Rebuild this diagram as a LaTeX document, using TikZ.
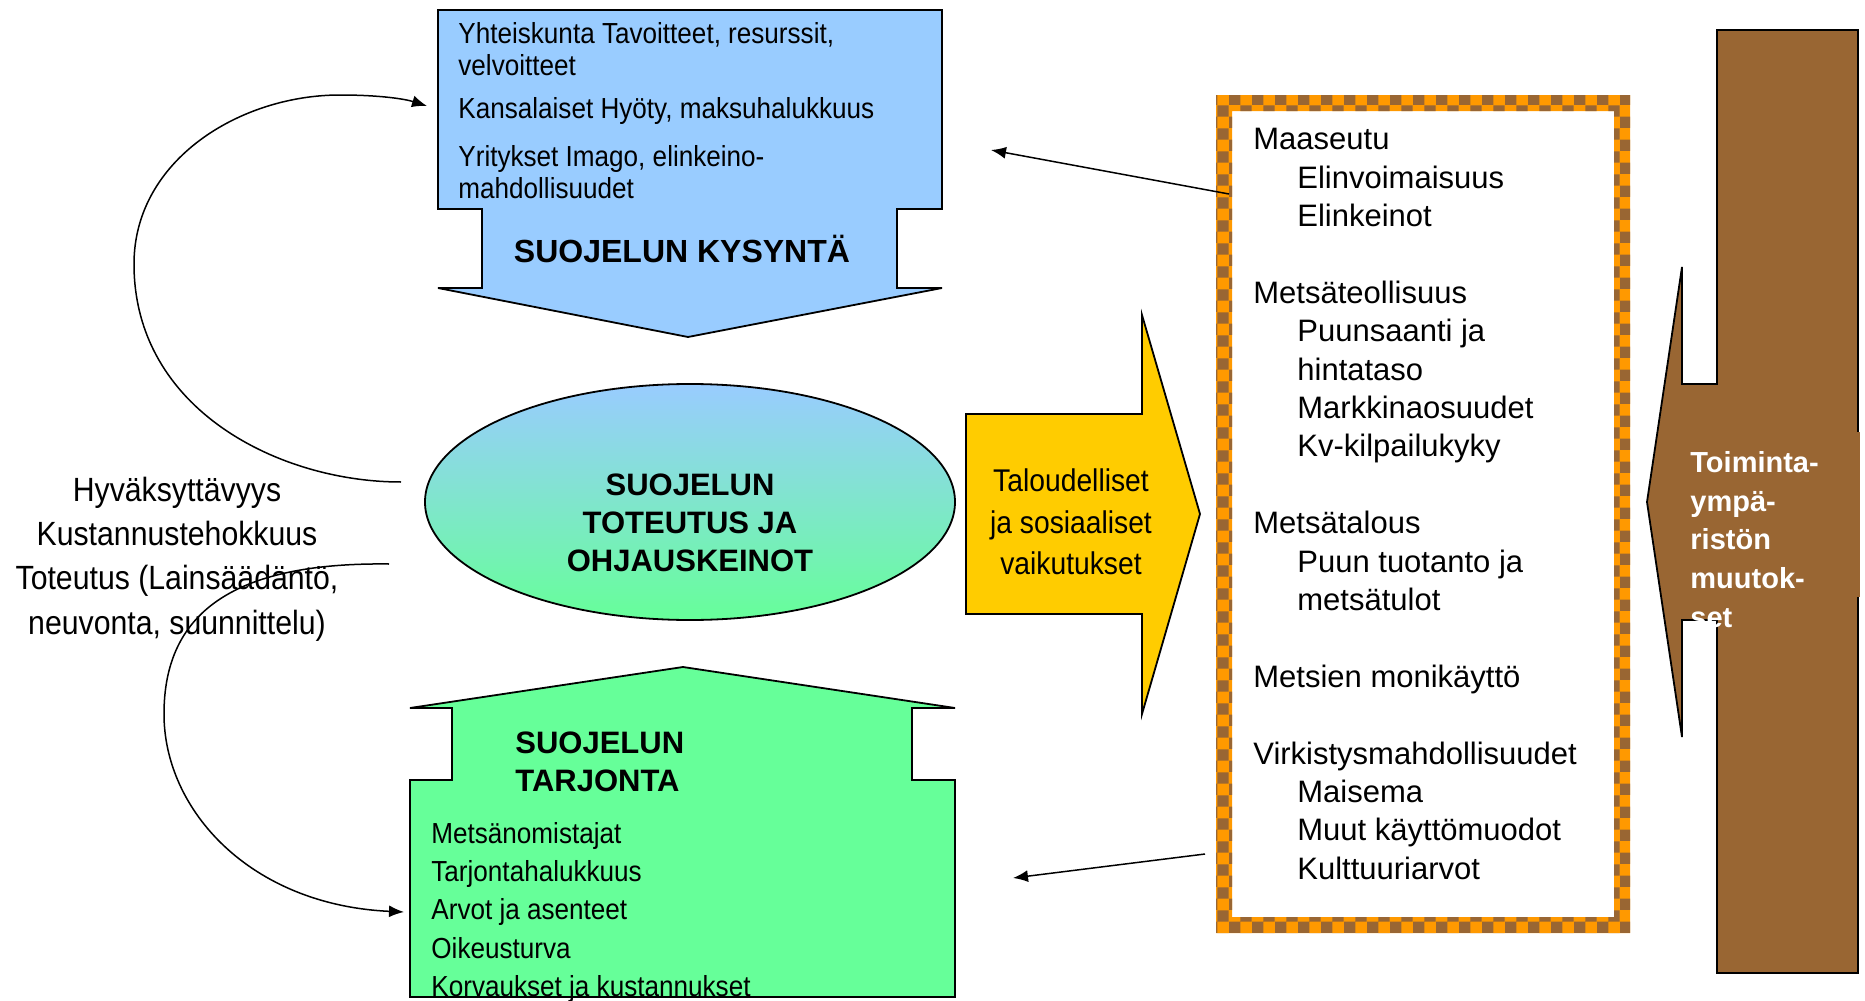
\documentclass[tikz,border=0pt]{standalone}
\usepackage{fontspec}
\setmainfont{Liberation Sans}
\newfontfamily\narrowfont{Liberation Sans}[FakeStretch=0.9]
\usetikzlibrary{arrows.meta,shapes.geometric,patterns}

\definecolor{kysblue}{HTML}{99CCFF}
\definecolor{tarjgreen}{HTML}{66FF99}
\definecolor{vaikyellow}{HTML}{FFCC00}
\definecolor{ymbrown}{HTML}{996633}
\definecolor{frameorange}{HTML}{FF9900}

\newcommand{\alakohta}{\hspace*{22pt}}

\tikzset{
  blockarrow/.style={draw=black, line width=0.9pt},
  conn/.style={-{Latex[length=7.5pt,width=6pt]}, line width=0.75pt},
  narrowtext/.style={font=\narrowfont\fontsize{14.5}{16}\selectfont, inner sep=0pt, align=left},
  titletext/.style={font=\bfseries\fontsize{16}{19}\selectfont, inner sep=0pt, align=center},
  paneltext/.style={font=\fontsize{15.5}{19.2}\selectfont, inner sep=0pt, align=left}
}

\begin{document}
\begin{tikzpicture}[x=0.5pt,y=-0.5pt]
    \useasboundingbox (0,0) rectangle (1865,1001);

    % kysynta (down arrow)
    \draw[blockarrow, fill=kysblue] (438,10) -- (942,10) -- (942,209) -- (897,209) -- (897,288)
      -- (942,288) -- (688,337) -- (438,288) -- (482,288) -- (482,209) -- (438,209) -- cycle;
    \node[narrowtext, anchor=west] (yhteiskunta) at (458,49) {Yhteiskunta Tavoitteet, resurssit,\\velvoitteet};
    \node[narrowtext, anchor=west] (kansalaiset) at (458,111) {Kansalaiset Hyöty, maksuhalukkuus};
    \node[narrowtext, anchor=west] (yritykset) at (458,172) {Yritykset Imago, elinkeino-\\mahdollisuudet};
    \node[titletext] (kysynta) at (682,249) {SUOJELUN KYSYNTÄ};

    % tarjonta (up arrow)
    \draw[blockarrow, fill=tarjgreen] (683,667) -- (955,708) -- (912,708) -- (912,780) -- (955,780)
      -- (955,997) -- (410,997) -- (410,780) -- (452,780) -- (452,708) -- (410,708) -- cycle;
    \node[titletext, align=left, anchor=west, font=\bfseries\fontsize{15.5}{19}\selectfont] (tarjonta) at (515,762) {SUOJELUN\\TARJONTA};
    \node[narrowtext, anchor=north west, font=\narrowfont\fontsize{14.5}{19.1}\selectfont] (tarjontalista) at (431,822)
      {Metsänomistajat\\Tarjontahalukkuus\\Arvot ja asenteet\\Oikeusturva\\Korvaukset ja kustannukset};

    % toteutus
    \node[draw, line width=0.9pt, ellipse, minimum width=265pt, minimum height=118pt,
      top color=kysblue, bottom color=tarjgreen] (toteutus) at (690,502) {};
    \node[titletext, font=\bfseries\fontsize{15.5}{19}\selectfont] (toteutusteksti) at (690,523)
      {SUOJELUN\\TOTEUTUS JA\\OHJAUSKEINOT};

    % vaikutukset
    \draw[blockarrow, fill=vaikyellow] (966,414) -- (1142,414) -- (1142,315) -- (1200,514)
      -- (1142,714) -- (1142,614) -- (966,614) -- cycle;
    \node[font=\narrowfont\fontsize{15.7}{20.75}\selectfont, align=center, inner sep=0pt] (vaikutukset) at (1071,522)
      {Taloudelliset\\ja sosiaaliset\\vaikutukset};

    % alueet
    \fill[frameorange, even odd rule] (1216,95) rectangle (1630,933) (1232,111) rectangle (1614,917);
    \fill[pattern=checkerboard, pattern color=ymbrown, even odd rule] (1216,95) rectangle (1630,933) (1232,111) rectangle (1614,917);
    \node[paneltext, anchor=north west] (alueet) at (1253,128) {Maaseutu\\
      \alakohta Elinvoimaisuus\\
      \alakohta Elinkeinot\\[19.2pt]
      Metsäteollisuus\\
      \alakohta Puunsaanti ja\\
      \alakohta hintataso\\
      \alakohta Markkinaosuudet\\
      \alakohta Kv-kilpailukyky\\[19.2pt]
      Metsätalous\\
      \alakohta Puun tuotanto ja\\
      \alakohta metsätulot\\[19.2pt]
      Metsien monikäyttö\\[19.2pt]
      Virkistysmahdollisuudet\\
      \alakohta Maisema\\
      \alakohta Muut käyttömuodot\\
      \alakohta Kulttuuriarvot};

    % toimintaymparisto
    \draw[blockarrow, fill=ymbrown] (1717,30) -- (1858,30) -- (1858,973) -- (1717,973) -- (1717,620)
      -- (1682,620) -- (1682,737) -- (1647,502) -- (1682,267) -- (1682,384) -- (1717,384) -- cycle;
    \fill[ymbrown] (1855,432) rectangle (1860,597);
    \node[font=\bfseries\fontsize{14.5}{19.35}\selectfont, text=white, align=left, inner sep=0pt, anchor=north west]
      (muutokset) at (1690,451) {Toiminta-\\ympä-\\ristön\\muutok-\\set};

    % left text
    \node[font=\narrowfont\fontsize{16.8}{22.2}\selectfont, align=center, inner sep=0pt] (kriteerit) at (177,559)
      {Hyväksyttävyys\\Kustannustehokkuus\\Toteutus (Lainsäädäntö,\\neuvonta, suunnittelu)};

    % connectors
    \coordinate (alueetA) at (1229,194);
    \coordinate (kysyntaA) at (991,150);
    \coordinate (alueetB) at (1205,854);
    \coordinate (tarjontaA) at (1013,878);
    \coordinate (toteutusA) at (401,482);
    \coordinate (kysyntaB) at (427,106);
    \coordinate (toteutusB) at (389,564);
    \coordinate (tarjontaB) at (404,912);
    \draw[conn] (alueetA) -- (kysyntaA);
    \draw[conn] (alueetB) -- (tarjontaA);
    \draw[conn] (toteutusA) .. controls (280,482) and (134,410) .. (134,264)
      .. controls (134,160) and (240,95) .. (340,95) .. controls (380,95) and (405,99) .. (kysyntaB);
    \draw[conn] (toteutusB) .. controls (230,562) and (164,615) .. (164,714)
      .. controls (164,810) and (250,905) .. (tarjontaB);
\end{tikzpicture}
\end{document}
